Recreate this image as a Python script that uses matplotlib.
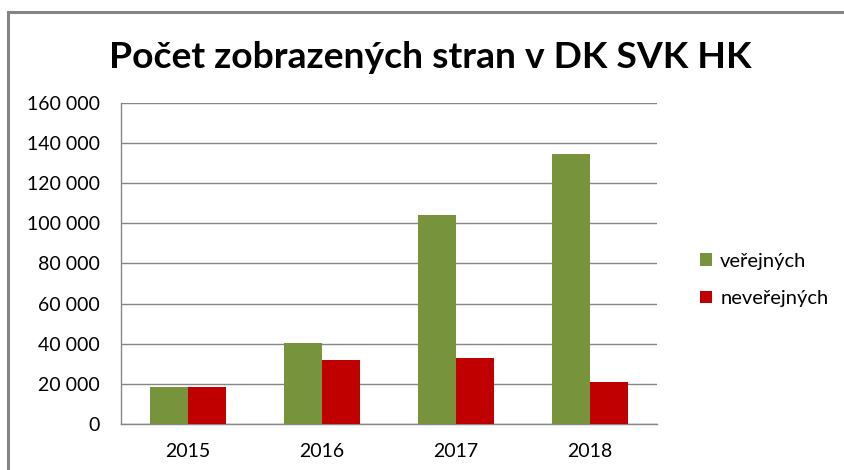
#!/usr/bin/env python3
"""
Bar chart: Počet zobrazených stran v DK SVK HK
"""

import numpy as np
import matplotlib
matplotlib.use("Agg")
import matplotlib.pyplot as plt
from matplotlib.lines import Line2D
from matplotlib.ticker import FuncFormatter

years = ["2015", "2016", "2017", "2018"]
verejnych = [18300, 40500, 104300, 134600]
neverejnych = [18300, 31700, 32700, 20800]
series_names = ["veřejných", "neveřejných"]

plt.rcParams['font.family'] = ['Lato', 'DejaVu Sans']

W, H = 844, 470
fig = plt.figure(figsize=(W / 100, H / 100), dpi=100)

# plot area in pixel coordinates (left, top, right, bottom)
left, top, right, bottom = 121, 103, 657, 424
ax = fig.add_axes([left / W, 1 - bottom / H, (right - left) / W, (bottom - top) / H])

x = np.arange(len(years))
bw = 0.284
ax.bar(x - bw / 2, verejnych, bw, color="#77933C", label=series_names[0], zorder=3)
ax.bar(x + bw / 2, neverejnych, bw, color="#C00000", label=series_names[1], zorder=3)

ax.set_xlim(-0.5, len(years) - 0.5)
ax.set_ylim(0, 160000)
ax.set_yticks(np.arange(0, 160001, 20000))
ax.yaxis.set_major_formatter(FuncFormatter(lambda v, p: f"{int(v):,}".replace(",", " ")))
ax.set_xticks(x)
ax.set_xticklabels(years)

grey = "#868686"
ax.grid(axis="y", color=grey, linewidth=1, zorder=0)
for s in ["top", "right"]:
    ax.spines[s].set_visible(False)
for s in ["left", "bottom"]:
    ax.spines[s].set_color(grey)
    ax.spines[s].set_linewidth(1)
ax.tick_params(axis="both", length=0, labelsize=14, colors="#000000")
ax.tick_params(axis="y", pad=15)
ax.tick_params(axis="x", pad=14)

fig.text(430 / W, 1 - 57 / H, "Počet zobrazených stran v DK SVK HK",
         ha="center", va="center", fontsize=26.8, fontweight="bold")

leg = fig.legend(loc="center left", bbox_to_anchor=(682 / W, 1 - 280 / H),
                 frameon=False, fontsize=14.5, handlelength=0.6, handleheight=0.6,
                 handletextpad=0.4, labelspacing=1.0)

# chart frame (left and top edge)
fig.add_artist(Line2D([8 / W, 8 / W], [0, 1 - 12 / H], transform=fig.transFigure,
                      color="#858585", linewidth=2.2))
fig.add_artist(Line2D([8 / W, 1], [1 - 12 / H, 1 - 12 / H], transform=fig.transFigure,
                      color="#858585", linewidth=2.2))

fig.savefig("out.png", dpi=100)
